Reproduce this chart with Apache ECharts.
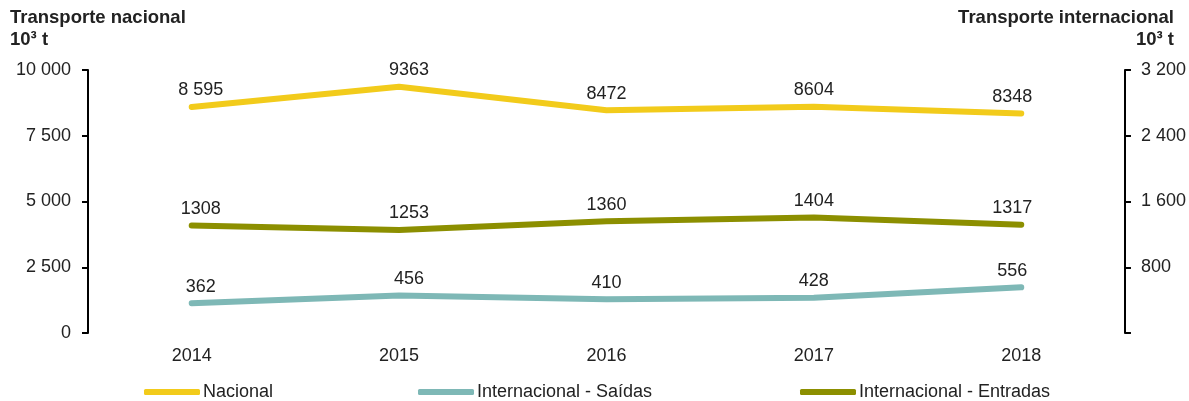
<!DOCTYPE html>
<html>
<head>
<meta charset="utf-8">
<script src="https://cdn.jsdelivr.net/npm/echarts@6/dist/echarts.min.js"></script>
<style>
  html, body { margin: 0; padding: 0; background: #fff; }
  #main { width: 1189px; height: 401px; }
</style>
</head>
<body>
<div id="main"></div>
<script>
var years = ['2014', '2015', '2016', '2017', '2018'];
var nacional = [8595, 9363, 8472, 8604, 8348];
var nacionalLabels = ['8 595', '9363', '8472', '8604', '8348'];
var saidas = [362, 456, 410, 428, 556];
var entradas = [1308, 1253, 1360, 1404, 1317];
var leftTicks = ['0', '2 500', '5 000', '7 500', '10 000'];
var rightTicks = ['', '800', '1 600', '2 400', '3 200'];
// horizontal nudge of the value labels, per year
var labelShift = [9, 10, 0, 0, -9];

var txt = '#222';
var font = 'Liberation Sans, Arial, sans-serif';

var myChart = echarts.init(document.getElementById('main'));

function lineSeries(name, data, color, axis, labels) {
    return {
        name: name,
        type: 'line',
        yAxisIndex: axis,
        data: data.map(function (v, i) {
            return { value: v, label: { offset: [labelShift[i], 0] } };
        }),
        symbol: 'circle',
        symbolSize: 1,
        showSymbol: true,
        lineStyle: { color: color, width: 6, cap: 'round', join: 'round' },
        itemStyle: { color: color },
        label: {
            show: true,
            position: 'top',
            distance: 7,
            color: txt,
            fontSize: 18,
            fontFamily: font,
            formatter: function (p) {
                return labels ? labels[p.dataIndex] : String(p.value);
            }
        }
    };
}

function legendAt(left, name) {
    return {
        left: left,
        top: 383,
        padding: 0,
        data: [name],
        icon: 'roundRect',
        itemWidth: 56,
        itemHeight: 6,
        itemGap: 0,
        textStyle: { color: txt, fontSize: 18, fontFamily: font, padding: [0, 0, 0, -2] }
    };
}

function titleText(text, pos, top) {
    var t = {
        text: text,
        top: top,
        padding: 0,
        textStyle: { color: txt, fontSize: 18.5, fontWeight: 'bold', fontFamily: font }
    };
    if (pos === 'left') t.left = 10; else t.right = 15;
    return t;
}

myChart.setOption({
    animation: false,
    title: [
        titleText('Transporte nacional', 'left', 8),
        titleText('10³ t', 'left', 30),
        titleText('Transporte internacional', 'right', 8),
        titleText('10³ t', 'right', 30)
    ],
    legend: [
        legendAt(144, 'Nacional'),
        legendAt(418, 'Internacional - Saídas'),
        legendAt(800, 'Internacional - Entradas')
    ],
    grid: { left: 88, right: 63, top: 70, bottom: 68 },
    xAxis: {
        type: 'category',
        data: years,
        boundaryGap: true,
        axisLine: { show: false },
        axisTick: { show: false },
        axisLabel: { color: txt, fontSize: 18, fontFamily: font, margin: 14 }
    },
    yAxis: [{
        type: 'value',
        min: 0,
        max: 10000,
        interval: 2500,
        position: 'left',
        splitLine: { show: false },
        axisLine: { show: true, lineStyle: { color: '#000', width: 2 } },
        axisTick: { show: true, length: 6, lineStyle: { color: '#000', width: 2 } },
        axisLabel: {
            color: txt, fontSize: 18, fontFamily: font, margin: 17,
            formatter: function (v) { return leftTicks[Math.round(v / 2500)]; }
        }
    }, {
        type: 'value',
        min: 0,
        max: 3200,
        interval: 800,
        position: 'right',
        splitLine: { show: false },
        axisLine: { show: true, lineStyle: { color: '#000', width: 2 } },
        axisTick: { show: true, length: 6, lineStyle: { color: '#000', width: 2 } },
        axisLabel: {
            color: txt, fontSize: 18, fontFamily: font, margin: 16,
            formatter: function (v) { return rightTicks[Math.round(v / 800)]; }
        }
    }],
    series: [
        lineSeries('Nacional', nacional, '#F2CB1B', 0, nacionalLabels),
        lineSeries('Internacional - Saídas', saidas, '#7EB8B6', 1),
        lineSeries('Internacional - Entradas', entradas, '#8C8F00', 1)
    ]
});
</script>
</body>
</html>
